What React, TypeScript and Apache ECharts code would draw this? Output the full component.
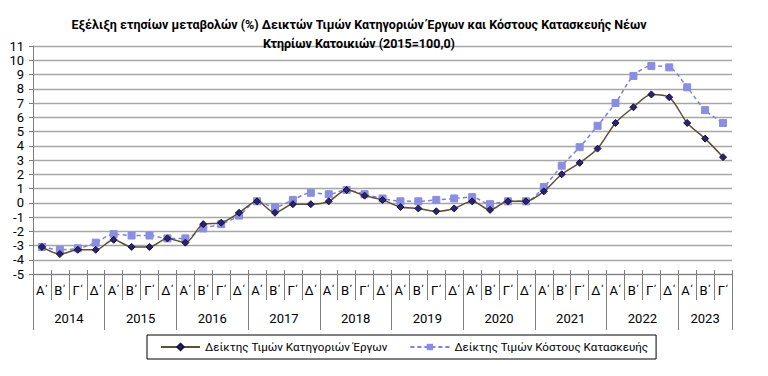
import React, { useEffect, useRef } from "react";
import * as echarts from "echarts";

const titleText = "Εξέλιξη ετησίων μεταβολών (%) Δεικτών Τιμών Κατηγοριών Έργων και Κόστους Κατασκευής Νέων\nΚτηρίων Κατοικιών (2015=100,0)";
const years = ["2014", "2015", "2016", "2017", "2018", "2019", "2020", "2021", "2022", "2023"];
const quarters = ["Α΄", "Β΄", "Γ΄", "Δ΄"];
const lastYearQuarters = 3;
const seriesNames = ["Δείκτης Τιμών Κατηγοριών Έργων", "Δείκτης Τιμών Κόστους Κατασκευής"];

const worksIndex = [
  -3.1, -3.6, -3.3, -3.3,
  -2.6, -3.1, -3.1, -2.5,
  -2.8, -1.5, -1.4, -0.7,
  0.1, -0.7, -0.1, -0.1,
  0.1, 0.9, 0.5, 0.2,
  -0.3, -0.4, -0.6, -0.4,
  0.1, -0.5, 0.1, 0.1,
  0.8, 2.0, 2.8, 3.8,
  5.6, 6.7, 7.6, 7.4,
  5.6, 4.5, 3.2,
];

const costIndex = [
  -3.1, -3.3, -3.2, -2.8,
  -2.2, -2.3, -2.3, -2.5,
  -2.5, -1.8, -1.5, -0.9,
  0.1, -0.3, 0.2, 0.7,
  0.6, 0.9, 0.6, 0.3,
  0.1, 0.1, 0.2, 0.3,
  0.4, -0.1, 0.1, 0.1,
  1.1, 2.6, 3.9, 5.4,
  7.0, 8.9, 9.6, 9.5,
  8.1, 6.5, 5.6,
];

const yMin = -5;
const yMax = 11;
const yInterval = 1;

export default function App() {
  const ref = useRef<HTMLDivElement>(null);
  useEffect(() => {
    if (!ref.current) return;
    const chart = echarts.init(ref.current, null, { renderer: "svg" });

    const categories: string[] = [];
    const yearOf: string[] = [];
    years.forEach((y, yi) => {
      const n = yi === years.length - 1 ? lastYearQuarters : 4;
      for (let q = 0; q < n; q++) {
        categories.push(quarters[q]);
        yearOf.push(y);
      }
    });
    const total = categories.length;
    const lastYearStart = (years.length - 1) * 4;
    const lastYearMid = lastYearStart + Math.floor(lastYearQuarters / 2);

    const font = "Roboto, 'Noto Sans', sans-serif";
    const axisColor = "#7f7f7f";

    chart.setOption({
      animation: false,
      textStyle: { fontFamily: font },
      title: {
        text: titleText,
        left: 354,
        top: 10,
        textAlign: "center",
        textStyle: {
          fontFamily: font,
          fontSize: 12.5,
          fontWeight: "bold",
          color: "#000",
          lineHeight: 19,
        },
      },
      grid: { left: 33, right: 36, top: 46, bottom: 102, containLabel: false },
      legend: {
        left: 147,
        top: 335,
        padding: [6, 8, 6, 13],
        itemGap: 22,
        itemWidth: 39,
        itemHeight: 8,
        borderColor: "#000",
        borderWidth: 1,
        textStyle: { fontFamily: font, fontSize: 11.6, color: "#000" },
        data: seriesNames,
      },
      xAxis: [
        {
          type: "category",
          data: categories,
          position: "bottom",
          boundaryGap: true,
          axisLine: { show: true, onZero: false, lineStyle: { color: axisColor, width: 1 } },
          axisTick: { show: true, interval: 0, length: 26, lineStyle: { color: axisColor } },
          axisLabel: { interval: 0, margin: 10, fontSize: 13, color: "#000", fontFamily: font },
          splitLine: { show: false },
        },
        {
          type: "category",
          data: categories,
          position: "bottom",
          boundaryGap: true,
          axisLine: { show: false, onZero: false },
          axisTick: {
            show: true,
            interval: (i: number) => i % 4 === 0 || i === total,
            length: 56,
            lineStyle: { color: axisColor },
          },
          axisLabel: {
            interval: (i: number) => (i % 4 === 1 && i < lastYearStart) || i === lastYearMid,
            margin: 38,
            fontSize: 13,
            color: "#000",
            fontFamily: font,
            formatter: (_v: string, i: number) =>
              i === lastYearMid ? "{c|" + yearOf[i] + "}" : "{s|" + yearOf[i] + "}",
            rich: {
              s: { padding: [0, 0, 0, 18], fontSize: 13, fontFamily: font, color: "#000" },
              c: { fontSize: 13, fontFamily: font, color: "#000" },
            },
          },
          splitLine: { show: false },
        },
        {
          type: "category",
          data: categories,
          position: "bottom",
          boundaryGap: true,
          axisLine: { show: false, onZero: false },
          axisTick: { show: true, inside: true, interval: 0, length: 4, lineStyle: { color: axisColor } },
          axisLabel: { show: false },
          splitLine: { show: false },
        },
      ],
      yAxis: {
        type: "value",
        min: yMin,
        max: yMax,
        interval: yInterval,
        axisLine: { show: true, onZero: false, lineStyle: { color: axisColor, width: 1 } },
        axisTick: { show: true, length: 4, lineStyle: { color: axisColor } },
        axisLabel: { margin: 9, fontSize: 13, color: "#000", fontFamily: font },
        splitLine: { show: true, lineStyle: { color: "#a6a6a6", width: 1.3 } },
      },
      series: [
        {
          name: seriesNames[0],
          type: "line",
          xAxisIndex: 0,
          data: worksIndex,
          smooth: 0.3,
          symbol: "diamond",
          symbolSize: 7,
          lineStyle: { color: "#5e4f35", width: 1.5 },
          itemStyle: { color: "#2a2470", borderColor: "#151040", borderWidth: 1 },
          z: 3,
        },
        {
          name: seriesNames[1],
          type: "line",
          xAxisIndex: 0,
          data: costIndex,
          smooth: 0.3,
          symbol: "rect",
          symbolSize: 7,
          lineStyle: { color: "#7b80e0", width: 1.5, type: [4, 3] },
          itemStyle: { color: "#8a8ee0", borderColor: "#8a8ee0" },
          z: 2,
        },
      ],
    });
    return () => chart.dispose();
  }, []);
  return (
    <div
      ref={ref}
      style={{ position: "absolute", left: 0, top: 0, width: 768, height: 376 }}
    />
  );
}
